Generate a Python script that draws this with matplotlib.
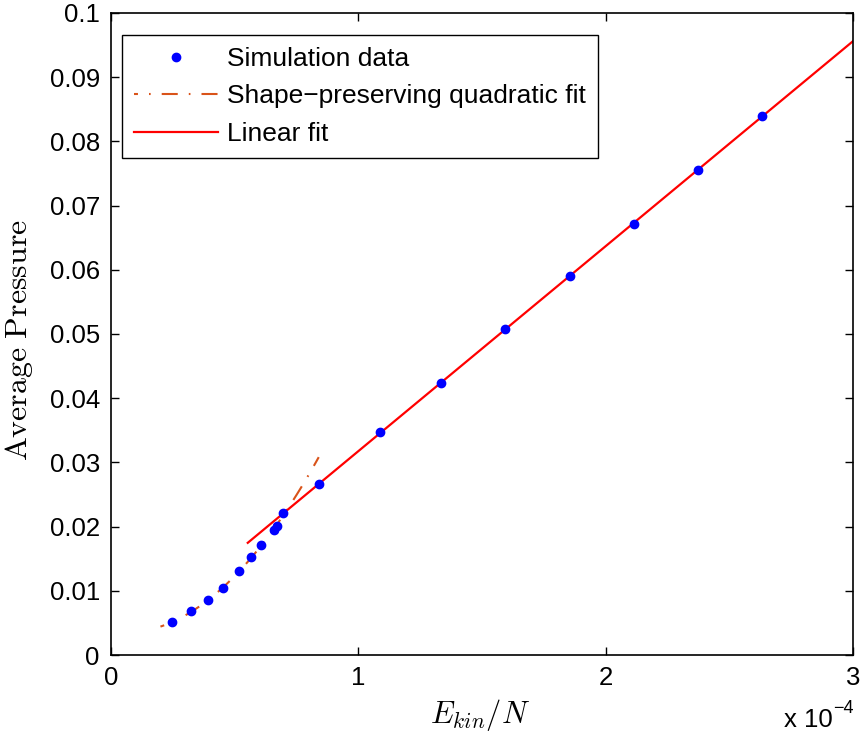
import numpy as np
import matplotlib
matplotlib.use("Agg")
import matplotlib.pyplot as plt
from matplotlib.ticker import FixedLocator, FixedFormatter

plt.rcParams['font.family'] = ['Liberation Sans', 'DejaVu Sans']
plt.rcParams['mathtext.fontset'] = 'cm'

# kinetic energy per particle, in units of 1e-4
ekin = [0.247, 0.324, 0.393, 0.452, 0.518, 0.567, 0.608, 0.658, 0.672, 0.697,
        0.842, 1.089, 1.336, 1.595, 1.854, 2.113, 2.372, 2.632]
pressure = [0.0051, 0.0068, 0.0085, 0.0105, 0.0131, 0.0152, 0.0171, 0.0195, 0.0201, 0.0221,
            0.0267, 0.0347, 0.0424, 0.0507, 0.0590, 0.0672, 0.0755, 0.0840]

# quadratic fit: low-energy points, drawn over 0.2 .. 0.84
n_quad = 10
quad_range = (0.2, 0.84)
# linear fit: drawn over 0.553 .. 3
lin_range = (0.553, 3.0)

x = np.array(ekin)
y = np.array(pressure)

qc = np.polyfit(x[:n_quad], y[:n_quad], 2)
xq = np.linspace(quad_range[0], quad_range[1], 100)
lc = np.polyfit(x[9:], y[9:], 1)
xl = np.linspace(lin_range[0], lin_range[1], 2)

fig = plt.figure(figsize=(8.63, 7.33), dpi=100)
ax = fig.add_axes([0.1286, 0.1064, 0.8598, 0.8759])

ax.plot(x, y, 'o', color='#0000ff', markersize=6, label='Simulation data', zorder=3)
ax.plot(xq, np.polyval(qc, xq), color='#D95319', lw=1.5, linestyle=(5.8, (7.7, 5.3, 0.8, 5.3)),
        label='Shape\u2212preserving quadratic fit', zorder=2)
ax.plot(xl, np.polyval(lc, xl), '-', color='#ff0000', lw=1.6, label='Linear fit', zorder=2)

ax.set_xlim(0, 3)
ax.set_ylim(0, 0.1)
ax.xaxis.set_major_locator(FixedLocator([0, 1, 2, 3]))
ax.xaxis.set_major_formatter(FixedFormatter(['0', '1', '2', '3']))
yt = np.round(np.arange(0, 0.1001, 0.01), 2)
ax.yaxis.set_major_locator(FixedLocator(yt))
ax.yaxis.set_major_formatter(FixedFormatter(['0'] + ['%g' % v for v in yt[1:]]))
ax.tick_params(direction='in', length=6, width=1, top=True, right=True, labelsize=18.5)
ax.tick_params(axis='y', pad=8)
ax.tick_params(axis='x', pad=8)
for s in ax.spines.values():
    s.set_linewidth(1.2)

ax.set_xlabel(r'$E_{kin}/N$', fontsize=22)
ax.xaxis.set_label_coords(0.497, -0.066)
ax.set_ylabel(r'$\mathrm{Average\ Pressure}$', fontsize=23)
ax.yaxis.set_label_coords(-0.103, 0.49)

# axis multiplier, MATLAB style
fig.text(784 / 863, 1 - 727 / 733, 'x 10', ha='left', va='baseline', fontsize=18.5)
fig.text(833 / 863, 1 - 713 / 733, '\u22124', ha='left', va='baseline', fontsize=13)

leg = ax.legend(loc='upper left', bbox_to_anchor=(0.0148, 0.9657), borderaxespad=0, fontsize=19,
                fancybox=False, edgecolor='black', framealpha=1, handlelength=3.2,
                handletextpad=0.34, borderpad=0.45, labelspacing=0.51)
leg.get_frame().set_linewidth(1.0)

fig.savefig('out.png', dpi=100)
